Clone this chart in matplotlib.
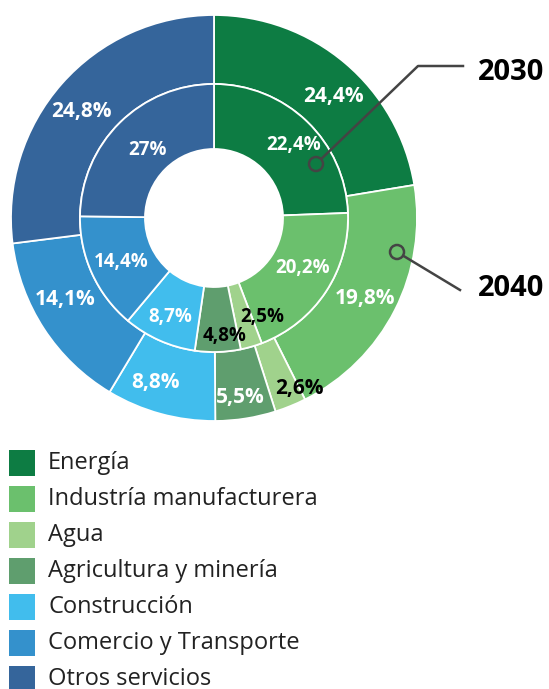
import matplotlib
matplotlib.use("Agg")
import matplotlib.pyplot as plt
from matplotlib.patches import Circle, Rectangle
import numpy as np

plt.rcParams["font.family"] = ["Open Sans", "DejaVu Sans"]

sectors = ["Energía", "Industría manufacturera", "Agua", "Agricultura y minería",
           "Construcción", "Comercio y Transporte", "Otros servicios"]
colors = ["#0d7c43", "#6bc06d", "#a0d28c", "#5f9e6e", "#41bded", "#3491cc", "#35659b"]
vals_2040 = [24.4, 19.8, 2.6, 5.5, 8.8, 14.1, 24.8]   # labels on outer ring
vals_2030 = [22.4, 20.2, 2.5, 4.8, 8.7, 14.4, 27.0]   # labels on inner ring

# in the original the ring geometry is swapped w.r.t. the printed labels:
# outer wedges follow the 2030 shares, inner wedges the 2040 shares
outer_geom = vals_2030
inner_geom = vals_2040

W, H = 549, 689
cx, cy = 214, 218          # centre in screen px (y down)
r_out, r_mid, r_hole = 203, 134, 69

# label nudges in screen px (dx, dy), label colours
nudge_out = [(10, 7), (1, 4), (22, 14), (0, 13), (-14, 2), (-8, -11), (-6, 5)]
nudge_in = [(9, 0), (4, -6), (20, 2), (8, 17), (-2, 6), (-1, 2), (5, 4)]
dark_out = [False, False, True, False, False, False, False]
dark_in = [False, False, True, True, False, False, False]

fig = plt.figure(figsize=(W / 100, H / 100), dpi=100)
ax = fig.add_axes([0, 0, 1, 1])


def Y(y):
    return H - y


wp = dict(edgecolor="white", linewidth=1.3)
ax.pie(outer_geom, colors=colors, radius=r_out, center=(cx, Y(cy)), startangle=90,
       counterclock=False, wedgeprops=dict(width=r_out - r_mid, **wp), frame=True)
ax.pie(inner_geom, colors=colors, radius=r_mid, center=(cx, Y(cy)), startangle=90,
       counterclock=False, wedgeprops=dict(width=r_mid - r_hole, **wp), frame=True)
ax.set_xlim(0, W)
ax.set_ylim(0, H)
ax.set_aspect("equal")
ax.axis("off")


def fmt(v):
    return f"{v:g}".replace(".", ",") + "%"


def put_labels(geom, vals, r, nudges, darks, size):
    cum = np.cumsum([0] + geom)
    for i, v in enumerate(vals):
        mid = (cum[i] + cum[i + 1]) / 2 / 100 * 2 * np.pi
        x = cx + r * np.sin(mid) + nudges[i][0]
        y = cy - r * np.cos(mid) + nudges[i][1]
        ax.text(x, Y(y), fmt(v), ha="center", va="center", fontsize=size,
                fontweight="bold", color="black" if darks[i] else "white")


put_labels(outer_geom, vals_2040, (r_out + r_mid) / 2, nudge_out, dark_out, 15)
put_labels(inner_geom, vals_2030, (r_mid + r_hole) / 2, nudge_in, dark_in, 13.5)

# leader lines
lc = "#444444"
ax.plot([316, 418, 463], [Y(164), Y(66), Y(66)], color=lc, lw=1.8)
ax.add_patch(Circle((316, Y(164)), 7, facecolor=colors[0], edgecolor=lc, lw=1.8, zorder=5))
ax.plot([397, 460], [Y(252), Y(290)], color=lc, lw=1.8)
ax.add_patch(Circle((397, Y(252)), 7, facecolor=colors[1], edgecolor=lc, lw=1.8, zorder=5))
ax.text(511, Y(72), "2030", ha="center", va="center", fontsize=21, fontweight="bold", color="black")
ax.text(511, Y(288), "2040", ha="center", va="center", fontsize=21, fontweight="bold", color="black")

# legend
for i, (name, c) in enumerate(zip(sectors, colors)):
    top = 450 + 36 * i
    ax.add_patch(Rectangle((9, Y(top + 26)), 26, 26, facecolor=c, edgecolor="none"))
    ax.text(48, Y(top + 13), name, ha="left", va="center", fontsize=17, color="#222222")

fig.savefig("out.png", dpi=100)
